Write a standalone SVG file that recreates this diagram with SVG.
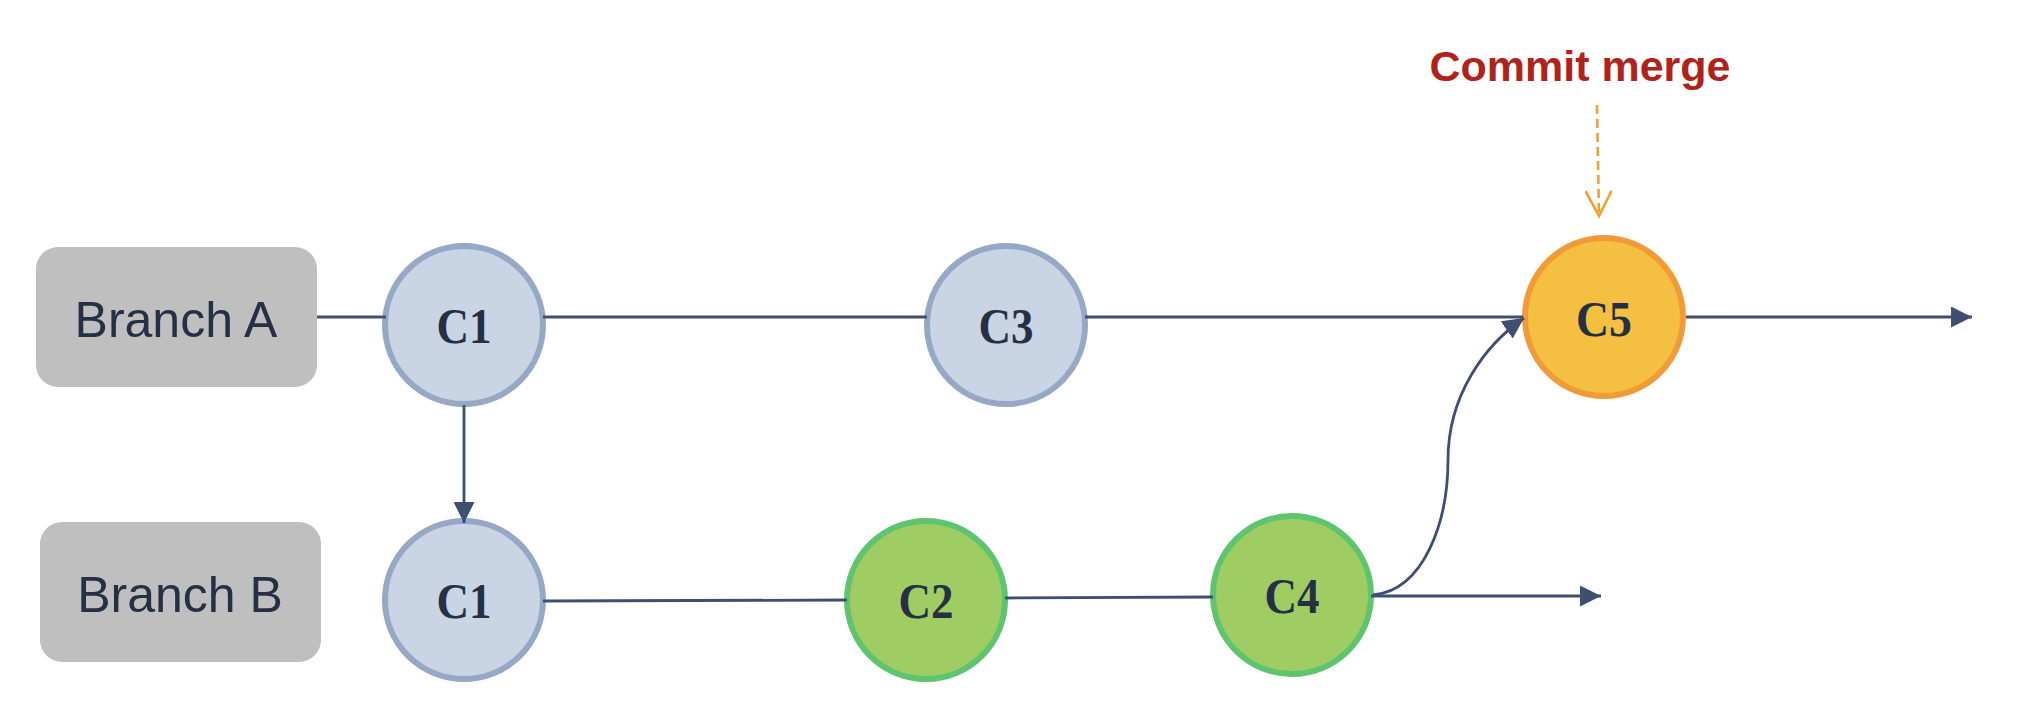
<svg xmlns="http://www.w3.org/2000/svg" width="2044" height="712" viewBox="0 0 2044 712">
  <style>
    .box { fill: #BFBFBF; }
    .blabel { font-family: "Liberation Sans", Arial, sans-serif; font-size: 50px; fill: #253044; text-anchor: middle; }
    .cblue { fill: #C9D4E4; stroke: #97A8C6; stroke-width: 6; }
    .cgreen { fill: #A0CD63; stroke: #5EC46E; stroke-width: 6; }
    .corange { fill: #F5BF42; stroke: #F09A38; stroke-width: 6; }
    .clabel { font-family: "Liberation Serif", "Times New Roman", serif; font-weight: bold; font-size: 50px; fill: #253044; text-anchor: middle; }
    .edge { fill: none; stroke: #3E4F72; stroke-width: 2.8; }
    .dash { fill: none; stroke: #F0A030; stroke-width: 2.6; stroke-dasharray: 9 5; }
    .note { font-family: "Liberation Sans", Arial, sans-serif; font-weight: bold; font-size: 43px; fill: #B0231A; text-anchor: middle; }
  </style>
  <defs>
    <marker id="arrow" markerUnits="userSpaceOnUse" viewBox="0 0 21 21" refX="21" refY="10.5" markerWidth="21" markerHeight="21" orient="auto">
      <path d="M0,0 L21,10.5 L0,21 z" fill="#3E4F72"/>
    </marker>
    <marker id="open" markerUnits="userSpaceOnUse" viewBox="0 0 30 28" refX="27" refY="14" markerWidth="30" markerHeight="28" orient="auto">
      <path d="M2,1 L27,14 L2,27" fill="none" stroke="#F0A030" stroke-width="2.6"/>
    </marker>
  </defs>

  <g id="branch-a">
    <rect class="box" x="36" y="247" width="281" height="140" rx="22"/>
    <text class="blabel" x="176" y="337">Branch A</text>
  </g>
  <g id="branch-b">
    <rect class="box" x="40" y="522" width="281" height="140" rx="22"/>
    <text class="blabel" x="180" y="612">Branch B</text>
  </g>

  <g id="a-c1">
    <circle class="cblue" cx="464" cy="325" r="79"/>
    <text class="clabel" x="464" y="343" textLength="55" lengthAdjust="spacingAndGlyphs">C1</text>
  </g>
  <g id="a-c3">
    <circle class="cblue" cx="1006" cy="325" r="79"/>
    <text class="clabel" x="1006" y="343" textLength="55" lengthAdjust="spacingAndGlyphs">C3</text>
  </g>
  <g id="a-c5">
    <circle class="corange" cx="1604" cy="317" r="79"/>
    <text class="clabel" x="1604" y="336" textLength="56" lengthAdjust="spacingAndGlyphs">C5</text>
  </g>
  <g id="b-c1">
    <circle class="cblue" cx="464" cy="600" r="79"/>
    <text class="clabel" x="464" y="618" textLength="55" lengthAdjust="spacingAndGlyphs">C1</text>
  </g>
  <g id="b-c2">
    <circle class="cgreen" cx="926" cy="600" r="79"/>
    <text class="clabel" x="926" y="618" textLength="55" lengthAdjust="spacingAndGlyphs">C2</text>
  </g>
  <g id="b-c4">
    <circle class="cgreen" cx="1292" cy="595" r="79"/>
    <text class="clabel" x="1292" y="613" textLength="55" lengthAdjust="spacingAndGlyphs">C4</text>
  </g>

  <g id="note">
    <text class="note" x="1580" y="81">Commit merge</text>
  </g>

  <g id="connectors">
    <path class="edge" d="M317,317 H386"/>
    <path class="edge" d="M543,317 H927"/>
    <path class="edge" d="M1085,317 H1523"/>
    <path class="edge" d="M1686,317 H1972" marker-end="url(#arrow)"/>
    <path class="edge" d="M464,405 V523" marker-end="url(#arrow)"/>
    <path class="edge" d="M543,601 L847,600"/>
    <path class="edge" d="M1005,598 L1213,597"/>
    <path class="edge" d="M1371,596 L1601,596" marker-end="url(#arrow)"/>
    <path class="edge" d="M1373,595 C1425,590 1448,520 1448,460 C1448,395 1485,345 1524,318" marker-end="url(#arrow)"/>
    <path class="dash" d="M1597,105 L1599,216" marker-end="url(#open)"/>
  </g>
</svg>
